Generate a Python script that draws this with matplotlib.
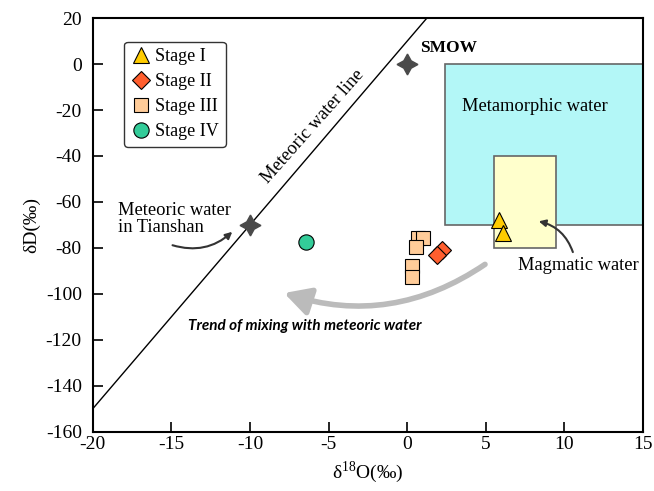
import numpy as np
import matplotlib.pyplot as plt
from matplotlib.patches import Rectangle

plt.rcParams['font.family'] = ['Liberation Serif', 'DejaVu Serif']
plt.rcParams['mathtext.fontset'] = 'custom'
plt.rcParams['mathtext.rm'] = 'Liberation Serif'
plt.rcParams['axes.unicode_minus'] = False

# fluid inclusion data (d18O, dD)
stage1_x = [5.84, 6.09]
stage1_y = [-68.0, -73.7]
stage2_x = [2.19, 1.91]
stage2_y = [-81.1, -83.0]
stage3_x = [0.66, 1.02, 0.54, 0.30, 0.30]
stage3_y = [-75.8, -75.8, -79.7, -88.0, -92.8]
stage4_x = [-6.44]
stage4_y = [-77.6]

# reference fields
metamorphic = (2.4, -70, 12.6, 70)   # x, y, w, h
magmatic = (5.5, -80, 4.0, 40)
smow = (0, 0)
tianshan = (-10, -70)

xticks = [-20, -15, -10, -5, 0, 5, 10, 15]
yticks = [20, 0, -20, -40, -60, -80, -100, -120, -140, -160]

fig = plt.figure(figsize=(6.54, 4.91), dpi=100)
ax = fig.add_axes([0.142, 0.121, 0.841, 0.842])

ax.add_patch(Rectangle(metamorphic[:2], metamorphic[2], metamorphic[3],
                       facecolor='#b3f7f7', edgecolor='#666666', lw=1.2, zorder=1))
ax.add_patch(Rectangle(magmatic[:2], magmatic[2], magmatic[3],
                       facecolor='#ffffcc', edgecolor='#666666', lw=1.2, zorder=2))

# meteoric water line dD = 8*d18O + 10
mx = np.array([-20, 15])
ax.plot(mx, 8 * mx + 10, color='black', lw=1, zorder=3)

ax.plot(*smow, marker=(4, 1, 0), ms=15, color='#4a4a4a', zorder=5)
ax.plot(*tianshan, marker=(4, 1, 0), ms=15, color='#4a4a4a', zorder=5)

ax.plot(stage1_x, stage1_y, '^', ms=11, mfc='#ffcc00', mec='black', mew=0.8,
        ls='none', label='Stage I', zorder=6)
ax.plot(stage2_x, stage2_y, 'D', ms=9, mfc='#ff5e2e', mec='black', mew=0.8,
        ls='none', label='Stage II', zorder=6)
ax.plot(stage3_x, stage3_y, 's', ms=10, mfc='#ffcc99', mec='black', mew=0.8,
        ls='none', label='Stage III', zorder=6)
ax.plot(stage4_x, stage4_y, 'o', ms=11, mfc='#33cc99', mec='black', mew=0.8,
        ls='none', label='Stage IV', zorder=6)

leg = ax.legend(loc='upper left', bbox_to_anchor=(0.04, 0.965), fontsize=13,
                handletextpad=0.2, handlelength=1.2, borderpad=0.35,
                labelspacing=0.45, frameon=True, fancybox=True)
leg.get_frame().set_edgecolor('black')
leg.get_frame().set_linewidth(1)

# labels
ax.text(0.8, 7, 'SMOW', fontsize=12.5, fontweight='bold', ha='left', va='center')
ax.text(8.1, -18.4, 'Metamorphic water', fontsize=13.3, ha='center', va='center')
ax.text(10.9, -87.7, 'Magmatic water', fontsize=13.3, ha='center', va='center')
ax.text(-18.4, -67.6, 'Meteoric water\nin Tianshan', fontsize=13.3, ha='left', va='center',
        linespacing=1.0)
ax.text(-6.0, -27.0, 'Meteoric water line', fontsize=13.3, ha='center', va='center',
        rotation=48.5, rotation_mode='anchor')
ax.text(-6.5, -114, 'Trend of mixing with meteoric water', fontsize=11,
        family='Lato', fontweight='bold', style='italic', ha='center', va='center')

# arrows
ax.annotate('', xy=(-11.0, -72.2), xytext=(-15.1, -78.5),
            arrowprops=dict(arrowstyle='-|>', color='#333333', lw=1.5,
                            mutation_scale=10, connectionstyle='arc3,rad=0.3'))
ax.annotate('', xy=(8.2, -68.2), xytext=(10.6, -83.0),
            arrowprops=dict(arrowstyle='-|>', color='#333333', lw=1.5,
                            mutation_scale=10, connectionstyle='arc3,rad=0.3'))
ax.annotate('', xy=(-8.0, -99.3), xytext=(5.1, -86.5),
            arrowprops=dict(arrowstyle='-|>,head_length=1.3,head_width=0.7',
                            color='#bbbbbb', lw=4, mutation_scale=12,
                            connectionstyle='arc3,rad=-0.25'))

ax.set_xlim(-20, 15)
ax.set_ylim(-160, 20)
ax.set_xticks(xticks)
ax.set_yticks(yticks)
ax.tick_params(direction='in', length=7, width=1.2, labelsize=14, top=False, right=False)
ax.tick_params(axis='y', pad=8)
for s in ax.spines.values():
    s.set_linewidth(1.5)

ax.set_xlabel(r'δ$^{18}$O(‰)', fontsize=14, labelpad=4)
ax.set_ylabel('δD(‰)', fontsize=14, labelpad=4)

fig.savefig('out.png', dpi=100)
